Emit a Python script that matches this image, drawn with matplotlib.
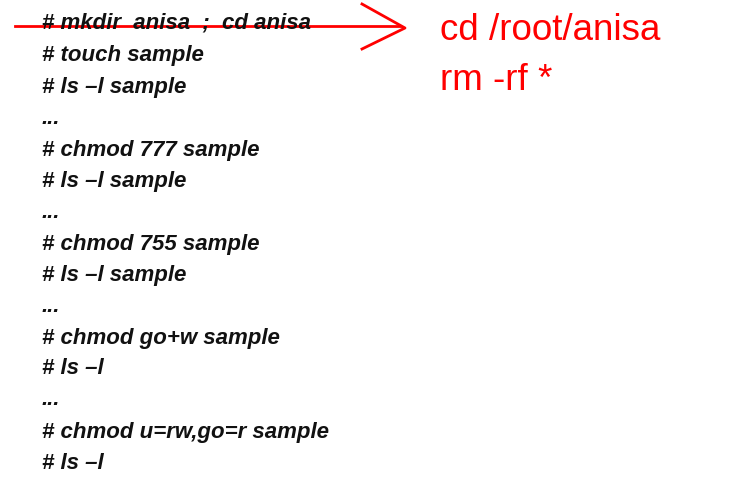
import matplotlib
matplotlib.use("Agg")
import matplotlib.pyplot as plt

lines = ["# mkdir  anisa  ;  cd anisa", "# touch sample", "# ls \u2013l sample", "...",
         "# chmod 777 sample", "# ls \u2013l sample", "...",
         "# chmod 755 sample", "# ls \u2013l sample", "...",
         "# chmod go+w sample", "# ls \u2013l", "...",
         "# chmod u=rw,go=r sample", "# ls \u2013l"]
line_y = [23, 56, 88, 119, 151, 182, 213, 245, 276, 307, 339, 369, 400, 433, 464]
red_text = ["cd /root/anisa", "rm -rf *"]
red_y = [31, 81]

fig = plt.figure(figsize=(7.31, 4.85), dpi=100)
ax = fig.add_axes([0, 0, 1, 1])
ax.set_xlim(0, 731); ax.set_ylim(485, 0); ax.axis("off")
for t, y in zip(lines, line_y):
    ax.text(42, y, t, fontsize=16, fontweight="bold", fontstyle="italic",
            family="Liberation Sans", va="center", ha="left", color="#111111")
for t, y in zip(red_text, red_y):
    ax.text(440, y, t, fontsize=26.5, family="Liberation Sans", va="center", ha="left", color="#ff0000")
ax.plot([15, 400], [27, 27], color="#ff0000", lw=2)
ax.plot([362, 405, 362], [5, 29, 50], color="#ff0000", lw=2)
fig.savefig("out.png", dpi=100)
